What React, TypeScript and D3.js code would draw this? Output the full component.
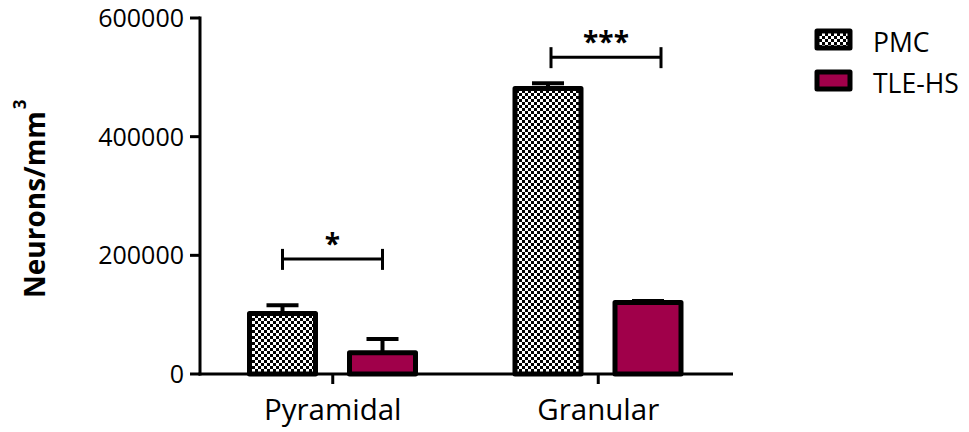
import React from "react";
import * as d3 from "d3";

// Neuronal density per hippocampal layer, mean ± SEM
const categories = ["Pyramidal", "Granular"];
const groups = ["PMC", "TLE-HS"];
const pmcMeans = [102000, 481000];
const pmcSem = [14000, 9000];
const tleMeans = [36000, 120500];
const tleSem = [23000, 2500];
const yTicks = [0, 200000, 400000, 600000];

// Significance brackets: category, height (in data units), label
const brackets = [
  { category: "Pyramidal", value: 194000, label: "*", nudge: [0, 0] },
  { category: "Granular", value: 534000, label: "***", nudge: [3, 13] },
];

const W = 969;
const H = 432;
const FONT = "'Open Sans', 'DejaVu Sans', sans-serif";
const CRIMSON = "#A0004A";

export default function App() {
  const x0 = d3.scaleBand<string>().domain(categories).range([200, 731]).padding(0);
  const x1 = d3.scaleBand<string>().domain(groups).range([32.5, 232.5]).padding(0);
  const y = d3.scaleLinear().domain([0, 600000]).range([374, 18]);

  const barW = 66;
  const series = [
    { key: "PMC", means: pmcMeans, sem: pmcSem, fill: "url(#checker)" },
    { key: "TLE-HS", means: tleMeans, sem: tleSem, fill: CRIMSON },
  ];
  const cx = (cat: string, g: string) => (x0(cat) as number) + (x1(g) as number) + x1.bandwidth() / 2;
  const catCenter = (cat: string) => (x0(cat) as number) + x0.bandwidth() / 2;

  return (
    <svg
      width={W}
      height={H}
      style={{ position: "absolute", left: 0, top: 0, background: "#fff" }}
      fontFamily={FONT}
    >
      <defs>
        <pattern id="checker" patternUnits="userSpaceOnUse" width={6} height={6}>
          <rect width={6} height={6} fill="#fff" />
          <rect x={0} y={0} width={3} height={3} fill="#000" />
          <rect x={3} y={3} width={3} height={3} fill="#000" />
        </pattern>
      </defs>

      {/* bars with error bars */}
      {series.map((s) =>
        categories.map((cat, i) => {
          const c = cx(cat, s.key);
          const top = y(s.means[i]);
          const err = y(s.means[i] + s.sem[i]);
          return (
            <g key={s.key + cat}>
              <line x1={c} x2={c} y1={top} y2={err} stroke="#000" strokeWidth={4} />
              <line x1={c - 16} x2={c + 16} y1={err} y2={err} stroke="#000" strokeWidth={4} />
              <rect
                x={c - barW / 2}
                y={top}
                width={barW}
                height={y(0) - top}
                fill={s.fill}
                stroke="#000"
                strokeWidth={5}
                strokeLinejoin="round"
              />
            </g>
          );
        })
      )}

      {/* y axis */}
      <line x1={200} x2={200} y1={y(600000) - 1.5} y2={y(0) + 1.5} stroke="#000" strokeWidth={3} />
      {yTicks.map((t) => (
        <g key={t}>
          <line x1={190} x2={200} y1={y(t)} y2={y(t)} stroke="#000" strokeWidth={3} />
          <text x={184} y={y(t)} dy="0.36em" textAnchor="end" fontSize={25} fill="#000">
            {t}
          </text>
        </g>
      ))}

      {/* x axis */}
      <line x1={198.5} x2={733} y1={y(0)} y2={y(0)} stroke="#000" strokeWidth={3} />
      {categories.map((cat) => (
        <g key={cat}>
          <line x1={catCenter(cat)} x2={catCenter(cat)} y1={y(0)} y2={y(0) + 10} stroke="#000" strokeWidth={3} />
          <text x={catCenter(cat)} y={420} textAnchor="middle" fontSize={29.5} fill="#000">
            {cat}
          </text>
        </g>
      ))}

      {/* y axis title */}
      <text
        transform={`translate(45, 298) rotate(-90)`}
        textAnchor="start"
        fontSize={28}
        fontWeight="bold"
        fill="#000"
      >
        Neurons/mm
        <tspan dx={2} dy={-19} fontSize={17}>3</tspan>
      </text>

      {/* significance brackets */}
      {brackets.map((b) => {
        const xa = cx(b.category, "PMC") + b.nudge[0];
        const xb = cx(b.category, "TLE-HS") + b.nudge[1];
        const yy = y(b.value);
        return (
          <g key={b.category}>
            <line x1={xa} x2={xb} y1={yy} y2={yy} stroke="#000" strokeWidth={3} />
            <line x1={xa} x2={xa} y1={yy - 10} y2={yy + 11} stroke="#000" strokeWidth={3} />
            <line x1={xb} x2={xb} y1={yy - 10} y2={yy + 11} stroke="#000" strokeWidth={3} />
            <text x={(xa + xb) / 2} y={yy - 5} textAnchor="middle" fontSize={28} fontWeight="bold" fill="#000">
              {b.label}
            </text>
          </g>
        );
      })}

      {/* legend */}
      {series.map((s, i) => {
        const ly = 39.5 + i * 41;
        return (
          <g key={s.key}>
            <rect
              x={817}
              y={ly - 8.5}
              width={33}
              height={17}
              fill={s.fill}
              stroke="#000"
              strokeWidth={5}
              strokeLinejoin="round"
            />
            <text x={873} y={ly + 3} dy="0.36em" fontSize={26.5} fill="#000">
              {s.key}
            </text>
          </g>
        );
      })}
    </svg>
  );
}
